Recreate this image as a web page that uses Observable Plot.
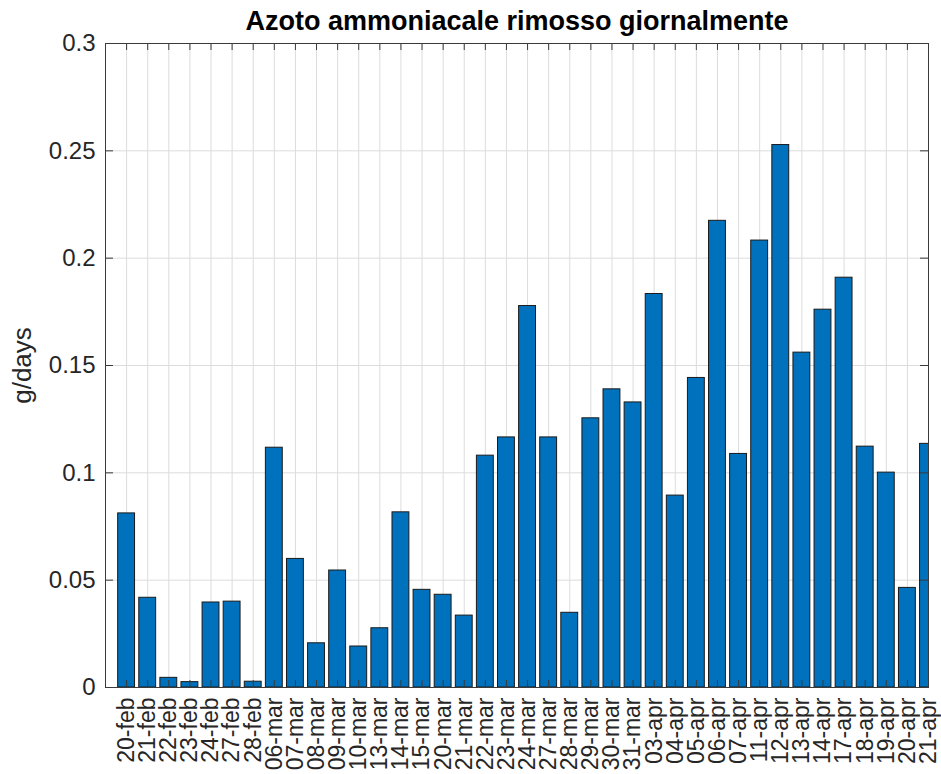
<!DOCTYPE html>
<html><head><meta charset="utf-8">
<script src="https://cdn.jsdelivr.net/npm/d3@7"></script>
<script src="https://cdn.jsdelivr.net/npm/@observablehq/plot@0.6"></script>
<style>html,body{margin:0;padding:0;background:#fff;overflow:hidden}</style>
</head><body><div id="chart"></div>
<script>
const categories = ["20-feb","21-feb","22-feb","23-feb","24-feb","27-feb","28-feb","06-mar","07-mar","08-mar","09-mar","10-mar","13-mar","14-mar","15-mar","20-mar","21-mar","22-mar","23-mar","24-mar","27-mar","28-mar","29-mar","30-mar","31-mar","03-apr","04-apr","05-apr","06-apr","07-apr","11-apr","12-apr","13-apr","14-apr","17-apr","18-apr","19-apr","20-apr","21-apr"];
const values = [0.0811,0.0418,0.0045,0.0025,0.0396,0.0400,0.0027,0.1117,0.0599,0.0206,0.0545,0.0191,0.0276,0.0816,0.0455,0.0432,0.0335,0.1080,0.1165,0.1777,0.1165,0.0348,0.1254,0.1389,0.1328,0.1833,0.0894,0.1442,0.2174,0.1088,0.2082,0.2527,0.1560,0.1760,0.1909,0.1122,0.1001,0.0464,0.1135];
const yTicks = [0,0.05,0.1,0.15,0.2,0.25,0.3];
const yTickLabels = ["0","0.05","0.1","0.15","0.2","0.25","0.3"];
const title = "Azoto ammoniacale rimosso giornalmente";
const yLabel = "g/days";

const W = 941, H = 774, mL = 105, mR = 13, mT = 43, mB = 87;
const xMax = categories.length;
const yMax = 0.3;
const data = categories.map((c, i) => ({cat: c, pos: i + 1, value: values[i]}));
const positions = data.map(d => d.pos);
const halfBar = 0.4;
const tickLenY = yMax * 7 / (H - mT - mB);
const tickLenX = xMax * 8 / (W - mL - mR);
const axisColor = "#3a3a3a";

const chart = Plot.plot({
  width: W, height: H,
  marginLeft: mL, marginRight: mR, marginTop: mT, marginBottom: mB,
  style: {fontFamily: "'Liberation Sans', Arial, Helvetica, sans-serif", color: "#262626", background: "#fff"},
  x: {type: "linear", domain: [0, xMax]},
  y: {type: "linear", domain: [0, yMax]},
  marks: [
    Plot.gridX(positions, {stroke: "#dcdcdc", strokeOpacity: 1}),
    Plot.gridY(yTicks, {stroke: "#dcdcdc", strokeOpacity: 1}),
    Plot.rect(data, {x1: d => d.pos - halfBar, x2: d => d.pos + halfBar, y1: 0, y2: "value", fill: "#0072BD", stroke: "#1a1a1a", strokeWidth: 1, clip: true}),
    Plot.ruleX(positions, {y1: 0, y2: tickLenY, stroke: axisColor, clip: true}),
    Plot.ruleX(positions, {y1: yMax - tickLenY, y2: yMax, stroke: axisColor, clip: true}),
    Plot.ruleY(yTicks, {x1: 0, x2: tickLenX, stroke: axisColor}),
    Plot.ruleY(yTicks, {x1: xMax - tickLenX, x2: xMax, stroke: axisColor}),
    Plot.frame({stroke: axisColor, strokeWidth: 1}),
    Plot.axisX(positions, {anchor: "bottom", tickFormat: p => categories[p - 1], tickRotate: -90, tickSize: 0, tickPadding: 10, fontSize: 23, label: null}),
    Plot.axisY(yTicks, {anchor: "left", tickFormat: (d, i) => yTickLabels[i], tickSize: 0, tickPadding: 10, fontSize: 24, label: null}),
    Plot.text([title], {frameAnchor: "top", textAnchor: "middle", lineAnchor: "bottom", dy: -14, fontSize: 27, fontWeight: "bold", fill: "#000"}),
    Plot.text([yLabel], {frameAnchor: "left", textAnchor: "middle", lineAnchor: "middle", dx: -83, rotate: -90, fontSize: 26, fill: "#262626"})
  ]
});
document.getElementById("chart").appendChild(chart);
</script>
</body></html>
